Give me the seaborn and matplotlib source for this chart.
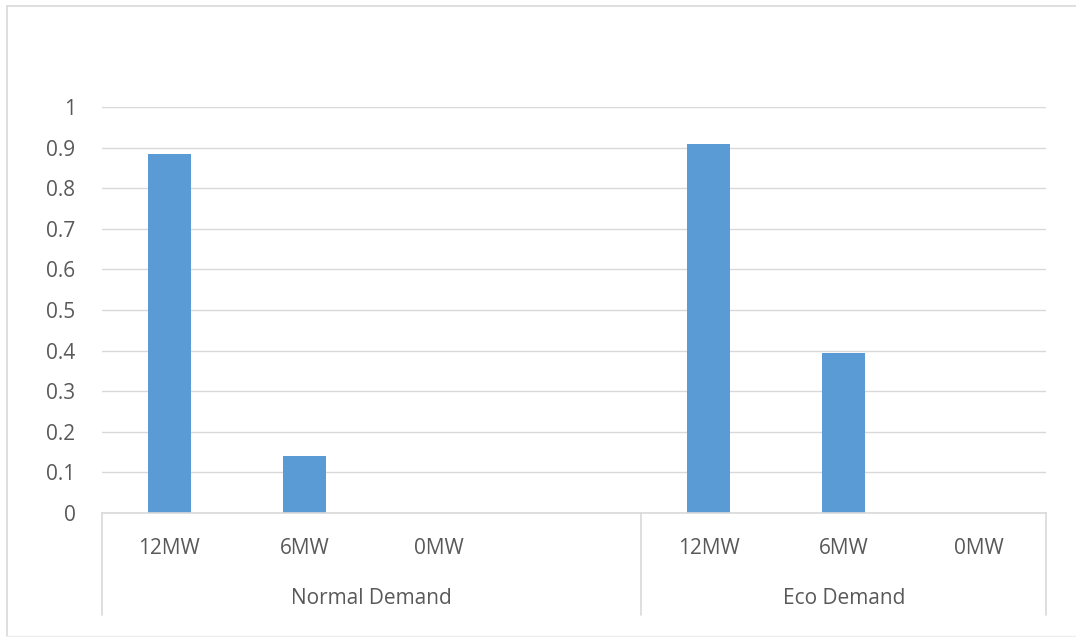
import matplotlib
matplotlib.use("Agg")
import matplotlib.pyplot as plt
import matplotlib.transforms as mtransforms
from matplotlib.lines import Line2D
import seaborn as sns
import pandas as pd
import numpy as np

# Data: two demand scenarios, three capacity levels each
groups = ["Normal Demand", "Eco Demand"]
levels = ["12MW", "6MW", "0MW"]
normal_values = [0.885, 0.14, 0.0]
eco_values = [0.91, 0.395, 0.0]
y_ticks = [0, 0.1, 0.2, 0.3, 0.4, 0.5, 0.6, 0.7, 0.8, 0.9, 1]

# Slots along the category axis (Normal group carries one empty slot)
slot_keys = [f"{groups[0]}|{l}" for l in levels] + [f"{groups[0]}|"] + \
            [f"{groups[1]}|{l}" for l in levels]
slot_labels = levels + [""] + levels
slot_values = normal_values + [np.nan] + eco_values
df = pd.DataFrame({"slot": slot_keys, "value": slot_values})

sns.set_theme(style="white")
plt.rcParams["font.family"] = ["Open Sans", "DejaVu Sans"]

TEXT = "#595959"
GRID = "#D9D9D9"
BAR = "#5B9BD5"
FS = 15

W, H = 1076, 637
fig = plt.figure(figsize=(W / 100, H / 100), dpi=100)
ax = fig.add_axes([102 / W, (H - 513) / H, (1046 - 102) / W, (513 - 107) / H])

sns.barplot(data=df, x="slot", y="value", order=slot_keys, color=BAR,
            width=0.32, saturation=1, ax=ax, linewidth=0)

ax.set_xlim(-0.5, len(slot_keys) - 0.5)
ax.set_ylim(0, 1)
ax.set_yticks(y_ticks)
ax.set_yticklabels([f"{t:g}" for t in y_ticks], fontsize=FS, color=TEXT)
ax.tick_params(axis="y", length=0, pad=19)
ax.set_xticks(range(len(slot_keys)))
ax.set_xticklabels(slot_labels, fontsize=FS, color=TEXT)
ax.tick_params(axis="x", length=0, pad=18)
ax.set_xlabel("")
ax.set_ylabel("")

ax.yaxis.grid(True, color=GRID, linewidth=1.0)
ax.set_axisbelow(True)
for side in ["top", "left", "right"]:
    ax.spines[side].set_visible(False)
ax.spines["bottom"].set_color(GRID)
ax.spines["bottom"].set_linewidth(1.2)

# Group separators and group labels below the axis
trans = mtransforms.blended_transform_factory(ax.transData, ax.transAxes)
sep_bottom = -(615 - 513) / (513 - 107)
for xs in [-0.5, 3.5, 6.5]:
    ax.add_line(Line2D([xs, xs], [0, sep_bottom], transform=trans,
                       color=GRID, linewidth=1.2, clip_on=False))
group_label_y = -(599 - 513) / (513 - 107)
for name, xc in zip(groups, [1.5, 5.0]):
    ax.text(xc, group_label_y, name, transform=trans, ha="center",
            va="center", fontsize=FS, color=TEXT)

# Outer chart frame
fig.add_artist(Line2D([7 / W, 1.0], [(H - 6) / H, (H - 6) / H],
                      transform=fig.transFigure, color=GRID, linewidth=1.2))
fig.add_artist(Line2D([7 / W, 7 / W], [(H - 6) / H, (H - 636) / H],
                      transform=fig.transFigure, color=GRID, linewidth=1.2))
fig.add_artist(Line2D([7 / W, 1.0], [(H - 636) / H, (H - 636) / H],
                      transform=fig.transFigure, color="#EEEEEE", linewidth=1.0))

fig.savefig("out.png", dpi=100, facecolor="white")
